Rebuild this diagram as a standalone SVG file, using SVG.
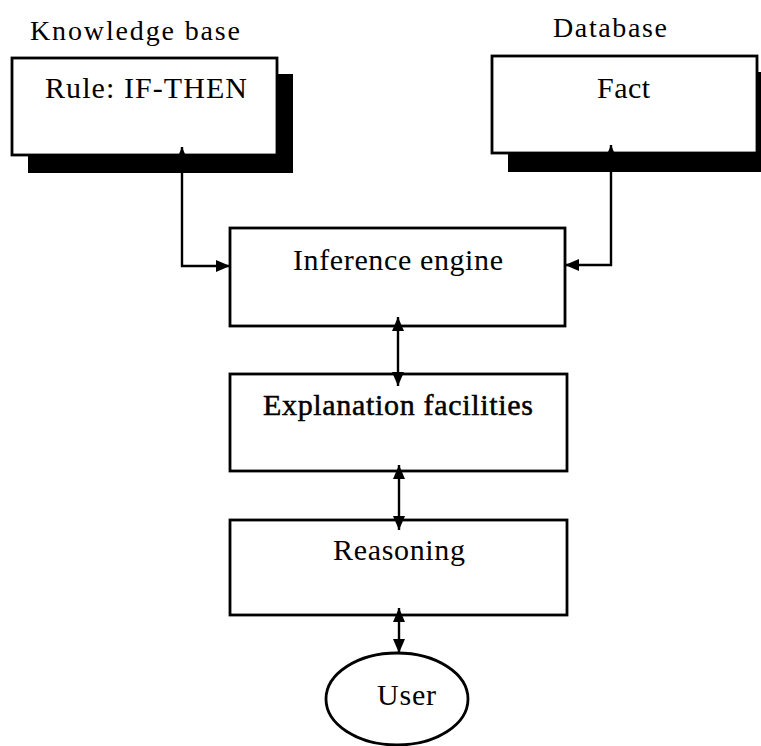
<svg xmlns="http://www.w3.org/2000/svg" width="761" height="746" viewBox="0 0 761 746">
  <style>
    .box { fill: #ffffff; stroke: #000000; stroke-width: 2.8; }
    .shadow { fill: #000000; stroke: none; }
    .head { font-family: "Liberation Serif", "Times New Roman", serif; font-size: 28px; fill: #000000; }
    .label { font-family: "Liberation Serif", "Times New Roman", serif; font-size: 30px; fill: #000000; }
    .heavy { stroke: #000000; stroke-width: 0.5; }
    .link { fill: none; stroke: #000000; stroke-width: 2.4; marker-start: url(#tip); marker-end: url(#tip); }
  </style>
  <defs>
    <marker id="tip" viewBox="0 0 14 12" refX="14" refY="6" markerWidth="14" markerHeight="12" markerUnits="userSpaceOnUse" orient="auto-start-reverse">
      <path d="M0,0 L14,6 L0,12 Z" fill="#000000"/>
    </marker>
  </defs>

  <rect width="761" height="746" fill="#ffffff"/>

  <!-- section headings -->
  <text class="head" x="30" y="40" textLength="210" lengthAdjust="spacing">Knowledge base</text>
  <text class="head" x="553" y="37" textLength="114" lengthAdjust="spacing">Database</text>

  <!-- knowledge base: rules -->
  <g id="rule">
    <rect class="shadow" x="28" y="74" width="265" height="99"/>
    <rect class="box" x="12" y="58" width="265" height="97"/>
    <text class="label" x="45" y="98" textLength="202" lengthAdjust="spacing">Rule: IF-THEN</text>
  </g>

  <!-- database: facts -->
  <g id="fact">
    <rect class="shadow" x="508" y="72" width="265" height="100"/>
    <rect class="box" x="492" y="56" width="265" height="97"/>
    <text class="label" x="597" y="98" textLength="53" lengthAdjust="spacing">Fact</text>
  </g>

  <g id="inference">
    <rect class="box" x="230" y="228" width="335" height="98"/>
    <text class="label" x="293" y="270" textLength="210" lengthAdjust="spacing">Inference engine</text>
  </g>

  <g id="explanation">
    <rect class="box" x="230" y="374" width="337" height="97"/>
    <text class="label heavy" x="263" y="415" textLength="270" lengthAdjust="spacing">Explanation facilities</text>
  </g>

  <g id="reasoning">
    <rect class="box" x="230" y="520" width="337" height="95"/>
    <text class="label" x="333" y="560" textLength="132" lengthAdjust="spacing">Reasoning</text>
  </g>

  <g id="user">
    <ellipse class="box" cx="397" cy="699" rx="71" ry="46"/>
    <text class="label" x="377" y="705" textLength="59" lengthAdjust="spacing">User</text>
  </g>

  <!-- two-way connectors -->
  <g id="connectors">
    <path class="link" d="M182,147 V266 H230"/>
    <path class="link" d="M611,145 V265 H565"/>
    <path class="link" d="M398,317 V386"/>
    <path class="link" d="M399,465 V530"/>
    <path class="link" d="M399,608 V653"/>
  </g>
</svg>
